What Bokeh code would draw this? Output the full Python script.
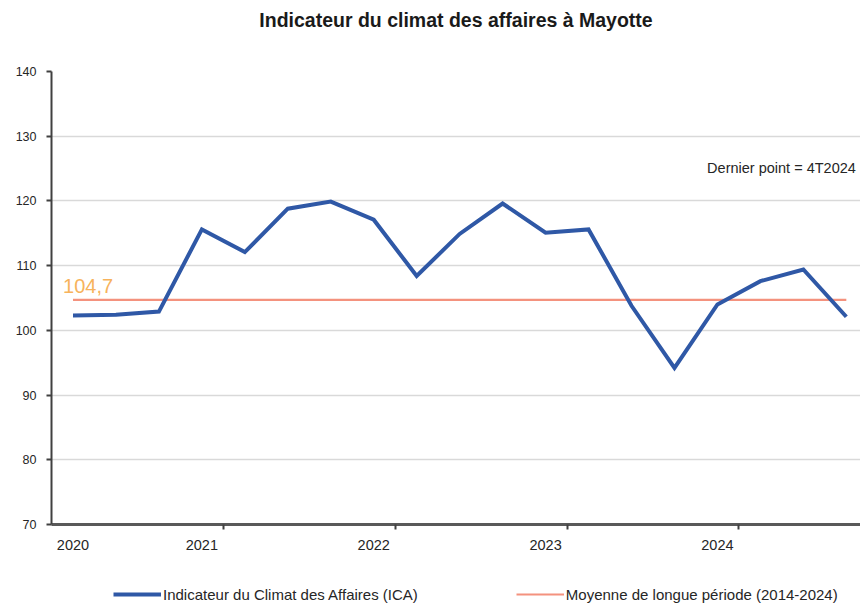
from bokeh.plotting import figure
from bokeh.layouts import column
from bokeh.models import FixedTicker, Legend, LegendItem, Label, Range1d, Title
from bokeh.embed import file_html
from bokeh.resources import INLINE

# ---- data ----
quarters = ["2T2020", "3T2020", "4T2020",
            "1T2021", "2T2021", "3T2021", "4T2021",
            "1T2022", "2T2022", "3T2022", "4T2022",
            "1T2023", "2T2023", "3T2023", "4T2023",
            "1T2024", "2T2024", "3T2024", "4T2024"]
ica = [102.3, 102.4, 102.9,
       115.6, 112.1, 118.8, 119.9,
       117.1, 108.4, 114.9, 119.6,
       115.1, 115.6, 103.8, 94.2,
       104.0, 107.6, 109.4, 102.1]
mean_value = 104.7
mean_label = "104,7"
year_labels = ["2020", "2021", "2022", "2023", "2024"]
y_ticks = [70, 80, 90, 100, 110, 120, 130, 140]
title_text = "Indicateur du climat des affaires à Mayotte"
note_text = "Dernier point = 4T2024"
ica_name = "Indicateur du Climat des Affaires (ICA)"
mean_name = "Moyenne de longue période (2014-2024)"

# ---- derived positions ----
xs = list(range(len(quarters)))
label_pos = [0] + [quarters.index("1T" + y) for y in year_labels[1:]]
tick_pos = [p + 0.5 for p in label_pos[1:]]
overrides = {p: y for p, y in zip(label_pos, year_labels)}

SANS = "'Liberation Sans', Arial, sans-serif"
BLUE = "#2F58A6"
SALMON = "#F4927E"
TXT = "#262626"

p = figure(width=860, height=560, output_backend="svg", toolbar_location=None,
           x_range=Range1d(-0.5, 18.33), y_range=Range1d(70, 140),
           min_border_left=51, min_border_right=0, min_border_top=71,
           min_border_bottom=36)
p.outline_line_color = None
p.background_fill_color = "white"

p.title.text = title_text
p.title.align = "center"
p.title.text_font = SANS
p.title.text_font_size = "19.5px"
p.title.text_font_style = "bold"
p.title.text_color = "#1a1a1a"
p.title.standoff = 0

# blank spacer between the title and the plot area
p.add_layout(Title(text=" ", text_font_size="12px", standoff=25), "above")

# axes
p.xaxis.ticker = FixedTicker(ticks=label_pos, minor_ticks=tick_pos)
p.xaxis.major_label_overrides = overrides
p.xaxis.major_tick_out = 0
p.xaxis.major_tick_in = 0
p.xaxis.minor_tick_out = 5
p.xaxis.minor_tick_in = 0
p.xaxis.minor_tick_line_color = "#404040"
p.xaxis.minor_tick_line_width = 2
p.xaxis.axis_line_color = "#595959"
p.xaxis.axis_line_width = 3
p.xaxis.major_label_text_font = SANS
p.xaxis.major_label_text_font_size = "14.5px"
p.xaxis.major_label_text_color = TXT
p.xaxis.major_label_standoff = 10

p.yaxis.ticker = FixedTicker(ticks=y_ticks)
p.yaxis.major_tick_out = 5
p.yaxis.major_tick_in = 0
p.yaxis.minor_tick_line_color = None
p.yaxis.major_tick_line_color = "#404040"
p.yaxis.major_tick_line_width = 2
p.yaxis.axis_line_color = "#404040"
p.yaxis.axis_line_width = 2
p.yaxis.major_label_text_font = SANS
p.yaxis.major_label_text_font_size = "12.5px"
p.yaxis.major_label_text_color = TXT
p.yaxis.major_label_standoff = 10

p.xgrid.grid_line_color = None
p.ygrid.ticker = FixedTicker(ticks=y_ticks)
p.ygrid.grid_line_color = "#D9D9D9"
p.ygrid.grid_line_width = 1.5

# series
p.line(xs, [mean_value] * len(xs), line_color=SALMON, line_width=2.2)
p.line(xs, ica, line_color=BLUE, line_width=4, line_join="miter")

# annotations
p.add_layout(Label(x=-0.23, y=105.8, text=mean_label, text_color="#F7B35C",
                   text_font=SANS, text_font_size="20px"))
p.add_layout(Label(x=14.76, y=123.9, text=note_text, text_color=TXT,
                   text_font=SANS, text_font_size="14.5px"))

# legend strip below the chart
lg = figure(width=860, height=43, output_backend="svg", toolbar_location=None,
            x_range=Range1d(0, 1), y_range=Range1d(0, 1),
            x_axis_type=None, y_axis_type=None, min_border=0)
lg.outline_line_color = None
lg.xgrid.grid_line_color = None
lg.ygrid.grid_line_color = None
r_ica = lg.line(xs, ica, line_color=BLUE, line_width=4)
r_mean = lg.line(xs, [mean_value] * len(xs), line_color=SALMON, line_width=2.2)

legend = Legend(items=[LegendItem(label=ica_name, renderers=[r_ica]),
                       LegendItem(label=mean_name, renderers=[r_mean])],
                orientation="horizontal", location=(62, 0),
                glyph_width=48, glyph_height=18, label_height=18,
                label_standoff=2, spacing=98,
                label_text_font=SANS, label_text_font_size="15px",
                label_text_color=TXT,
                border_line_alpha=0, background_fill_alpha=0,
                padding=0, margin=0)
lg.add_layout(legend, "center")

open("out.html", "w").write(file_html(column(p, lg, spacing=0), INLINE))
